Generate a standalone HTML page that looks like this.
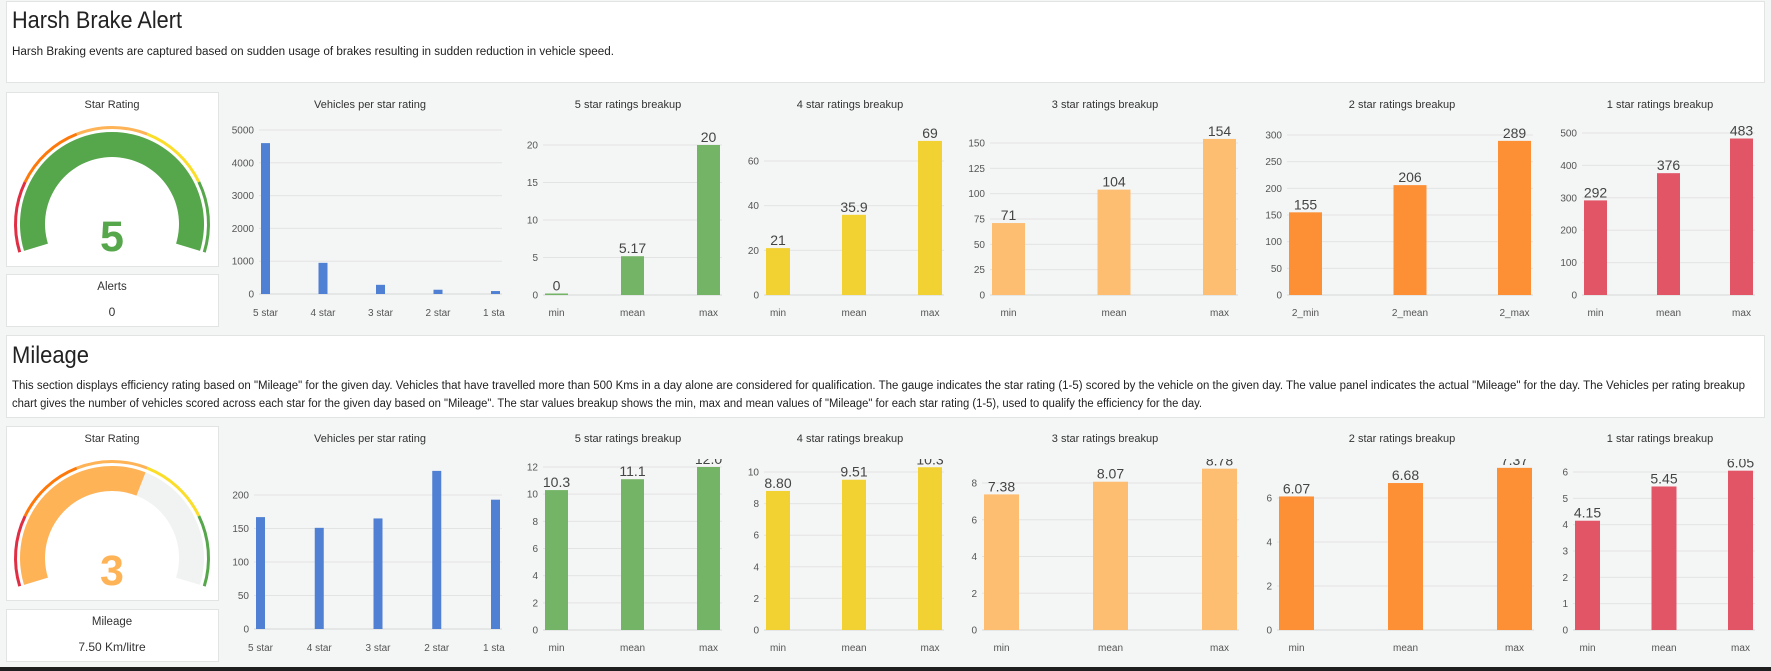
<!DOCTYPE html>
<html><head><meta charset="utf-8"><title>Harsh Brake Alert and Mileage star ratings dashboard</title>
<style>
html,body{margin:0;padding:0;background:#f4f5f5;}
body{width:1771px;height:671px;overflow:hidden;font-family:"Liberation Sans",sans-serif;}
svg{display:block}
</style></head>
<body>
<svg id="dash" width="1771" height="671" viewBox="0 0 1771 671" xmlns="http://www.w3.org/2000/svg" font-family="Liberation Sans, sans-serif">
  <rect x="0" y="0" width="1771" height="671" fill="#f4f5f5"/>
  <defs>
    <clipPath id="clipR2"><rect x="0" y="459" width="1771" height="200"/></clipPath>
    <clipPath id="clipVeh"><rect x="0" y="0" width="505" height="671"/></clipPath>
  </defs>
  <g>
    <rect x="6.5" y="1.5" width="1758" height="81" fill="#fff" stroke="#e2e3e3"/>
    <text x="12" y="28" font-size="24" fill="#222" textLength="170" lengthAdjust="spacingAndGlyphs">Harsh Brake Alert</text>
    <text x="12" y="55" font-size="11.5" fill="#222" textLength="602" lengthAdjust="spacingAndGlyphs">Harsh Braking events are captured based on sudden usage of brakes resulting in sudden reduction in vehicle speed.</text>
  </g>
  <g>
    <rect x="6.5" y="92.5" width="212" height="174" fill="#fff" stroke="#e2e3e3"/>
    <text x="112" y="108" font-size="11" fill="#333" text-anchor="middle">Star Rating</text>
  </g>
  <g>
    <rect x="6.5" y="274.5" width="212" height="52" fill="#fff" stroke="#e2e3e3"/>
    <text x="112" y="290" font-size="11.5" fill="#333" text-anchor="middle">Alerts</text>
    <text x="112" y="316" font-size="12" fill="#333" text-anchor="middle">0</text>
  </g>
  <g>
    <rect x="6.5" y="335.5" width="1758" height="82" fill="#fff" stroke="#e2e3e3"/>
    <text x="12" y="363" font-size="24" fill="#222" textLength="77" lengthAdjust="spacingAndGlyphs">Mileage</text>
    <text x="12" y="389" font-size="11.5" fill="#222" textLength="1733" lengthAdjust="spacingAndGlyphs">This section displays efficiency rating based on "Mileage" for the given day. Vehicles that have travelled more than 500 Kms in a day alone are considered for qualification. The gauge indicates the star rating (1-5) scored by the vehicle on the given day. The value panel indicates the actual "Mileage" for the day. The Vehicles per rating breakup</text>
    <text x="12" y="407" font-size="11.5" fill="#222" textLength="1190" lengthAdjust="spacingAndGlyphs">chart gives the number of vehicles scored across each star for the given day based on "Mileage". The star values breakup shows the min, max and mean values of "Mileage" for each star rating (1-5), used to qualify the efficiency for the day.</text>
  </g>
  <g>
    <rect x="6.5" y="426.5" width="212" height="174" fill="#fff" stroke="#e2e3e3"/>
    <text x="112" y="442" font-size="11" fill="#333" text-anchor="middle">Star Rating</text>
  </g>
  <g>
    <rect x="6.5" y="609.5" width="212" height="52" fill="#fff" stroke="#e2e3e3"/>
    <text x="112" y="625" font-size="11.5" fill="#333" text-anchor="middle">Mileage</text>
    <text x="112" y="651" font-size="12" fill="#333" text-anchor="middle">7.50 Km/litre</text>
  </g>
  <rect x="0" y="667" width="1771" height="4" fill="#1f1f1f"/>
  <g id="charts"></g>
</svg>
<script>
// ---------- data ----------
const starCats = ['5 star','4 star','3 star','2 star','1 star'];
const breakupCats = ['min','mean','max'];
const breakupCats2 = ['2_min','2_mean','2_max'];

const harshVehicleValues = [4600, 950, 280, 130, 90];
const harshVehicleTicks = [0, 1000, 2000, 3000, 4000, 5000];
const harsh5Values = [0, 5.17, 20];
const harsh5Labels = ['0', '5.17', '20'];
const harsh5Ticks = [0, 5, 10, 15, 20];
const harsh4Values = [21, 35.9, 69];
const harsh4Labels = ['21', '35.9', '69'];
const harsh4Ticks = [0, 20, 40, 60];
const harsh3Values = [71, 104, 154];
const harsh3Labels = ['71', '104', '154'];
const harsh3Ticks = [0, 25, 50, 75, 100, 125, 150];
const harsh2Values = [155, 206, 289];
const harsh2Labels = ['155', '206', '289'];
const harsh2Ticks = [0, 50, 100, 150, 200, 250, 300];
const harsh1Values = [292, 376, 483];
const harsh1Labels = ['292', '376', '483'];
const harsh1Ticks = [0, 100, 200, 300, 400, 500];

const mileageVehicleValues = [167, 151, 165, 236, 193];
const mileageVehicleTicks = [0, 50, 100, 150, 200];
const mileage5Values = [10.3, 11.1, 12.0];
const mileage5Labels = ['10.3', '11.1', '12.0'];
const mileage5Ticks = [0, 2, 4, 6, 8, 10, 12];
const mileage4Values = [8.80, 9.51, 10.3];
const mileage4Labels = ['8.80', '9.51', '10.3'];
const mileage4Ticks = [0, 2, 4, 6, 8, 10];
const mileage3Values = [7.38, 8.07, 8.78];
const mileage3Labels = ['7.38', '8.07', '8.78'];
const mileage3Ticks = [0, 2, 4, 6, 8];
const mileage2Values = [6.07, 6.68, 7.37];
const mileage2Labels = ['6.07', '6.68', '7.37'];
const mileage2Ticks = [0, 2, 4, 6];
const mileage1Values = [4.15, 5.45, 6.05];
const mileage1Labels = ['4.15', '5.45', '6.05'];
const mileage1Ticks = [0, 1, 2, 3, 4, 5, 6];

const harshGaugeValue = 5;
const mileageGaugeValue = 3;
const gaugeMax = 5;
const gaugeThresholds = [0, 1, 2, 3, 4, 5];

// ---------- rendering ----------
const NS = 'http://www.w3.org/2000/svg';
const root = document.getElementById('charts');
function mk(tag, attrs, parent){
  const e = document.createElementNS(NS, tag);
  for (const k in attrs) e.setAttribute(k, attrs[k]);
  (parent || root).appendChild(e);
  return e;
}

function barChart(o){
  const g = mk('g', {});
  
  
  if (o.clip) g.setAttribute('clip-path', o.clip);
  const t = mk('text', {x:o.titleX, y:o.titleY, 'font-size':11, fill:'#333', 'text-anchor':'middle'}, root);
  t.textContent = o.title;
  
  
  const topTick = o.ticks[o.ticks.length-1];
  const ppu = (o.y0 - o.topY) / topTick;
  const yS = v => o.y0 - v * ppu;
  o.ticks.forEach(tv => {
    const y = yS(tv);
    const l = mk('line', {x1:o.x0, x2:o.x1, y1:y, y2:y, stroke: tv===0 ? '#d6d6d6' : '#e3e3e3', 'stroke-width':1}, g);
    
    
    const tx = mk('text', {x:o.x0-5, y:y+3.5, 'font-size':10, fill:'#555', 'text-anchor':'end'}, g);
    tx.textContent = String(tv);
    
    
  });
  const n = o.cats.length, pad = 2;
  const step = (o.x1 - o.x0 - o.bw - 2*pad) / (n-1);
  const xS = i => o.x0 + pad + o.bw/2 + i*step;
  const vg = mk('g', {}, g);
  if (o.valueClip) vg.setAttribute('clip-path', o.valueClip);
  o.cats.forEach((c, i) => {
    const cx = xS(i), v = o.values[i];
    const h = Math.max(v * ppu, 1.5);
    const b = mk('rect', {x:cx-o.bw/2, y:o.y0-h, width:o.bw, height:h, fill:o.color}, vg);
    
    
    if (o.labels){
      const lt = mk('text', {x:cx, y:o.y0-h-3, 'font-size':14, fill:'#444', 'text-anchor':'middle'}, vg);
      lt.textContent = o.labels[i];
      
      
    }
    const xl = mk('text', {x:cx, y:o.labelY, 'font-size':10, fill:'#555', 'text-anchor':'middle'}, g);
    xl.textContent = c;
    
    
  });
}

const r1 = {y0:295, titleY:108, labelY:316};
barChart({name:'harsh-vehicles-per-star-chart', title:'Vehicles per star rating', titleX:370, titleY:r1.titleY, labelY:r1.labelY, x0:259, x1:502, y0:294, topY:130, ticks:harshVehicleTicks, cats:starCats, values:harshVehicleValues, bw:9, color:'#4f80d3', clip:'url(#clipVeh)'});
barChart({name:'harsh-5-star-breakup-chart', title:'5 star ratings breakup', titleX:628, titleY:r1.titleY, labelY:r1.labelY, x0:543, x1:722, y0:r1.y0, topY:145, ticks:harsh5Ticks, cats:breakupCats, values:harsh5Values, labels:harsh5Labels, bw:23, color:'#73b466'});
barChart({name:'harsh-4-star-breakup-chart', title:'4 star ratings breakup', titleX:850, titleY:r1.titleY, labelY:r1.labelY, x0:764, x1:944, y0:r1.y0, topY:161, ticks:harsh4Ticks, cats:breakupCats, values:harsh4Values, labels:harsh4Labels, bw:24, color:'#f2d233'});
barChart({name:'harsh-3-star-breakup-chart', title:'3 star ratings breakup', titleX:1105, titleY:r1.titleY, labelY:r1.labelY, x0:990, x1:1238, y0:r1.y0, topY:143, ticks:harsh3Ticks, cats:breakupCats, values:harsh3Values, labels:harsh3Labels, bw:33, color:'#fdbe72'});
barChart({name:'harsh-2-star-breakup-chart', title:'2 star ratings breakup', titleX:1402, titleY:r1.titleY, labelY:r1.labelY, x0:1287, x1:1533, y0:r1.y0, topY:135, ticks:harsh2Ticks, cats:breakupCats2, values:harsh2Values, labels:harsh2Labels, bw:33, color:'#fd8f35'});
barChart({name:'harsh-1-star-breakup-chart', title:'1 star ratings breakup', titleX:1660, titleY:r1.titleY, labelY:r1.labelY, x0:1582, x1:1755, y0:r1.y0, topY:133, ticks:harsh1Ticks, cats:breakupCats, values:harsh1Values, labels:harsh1Labels, bw:23, color:'#e25567'});

const r2 = {y0:630, titleY:442, labelY:651};
barChart({name:'mileage-vehicles-per-star-chart', title:'Vehicles per star rating', titleX:370, titleY:r2.titleY, labelY:r2.labelY, x0:254, x1:502, y0:629, topY:495, ticks:mileageVehicleTicks, cats:starCats, values:mileageVehicleValues, bw:9, color:'#4f80d3', clip:'url(#clipVeh)'});
barChart({name:'mileage-5-star-breakup-chart', title:'5 star ratings breakup', titleX:628, titleY:r2.titleY, labelY:r2.labelY, x0:543, x1:722, y0:r2.y0, topY:467, ticks:mileage5Ticks, cats:breakupCats, values:mileage5Values, labels:mileage5Labels, bw:23, color:'#73b466', valueClip:'url(#clipR2)'});
barChart({name:'mileage-4-star-breakup-chart', title:'4 star ratings breakup', titleX:850, titleY:r2.titleY, labelY:r2.labelY, x0:764, x1:944, y0:r2.y0, topY:472, ticks:mileage4Ticks, cats:breakupCats, values:mileage4Values, labels:mileage4Labels, bw:24, color:'#f2d233', valueClip:'url(#clipR2)'});
barChart({name:'mileage-3-star-breakup-chart', title:'3 star ratings breakup', titleX:1105, titleY:r2.titleY, labelY:r2.labelY, x0:982, x1:1239, y0:r2.y0, topY:483, ticks:mileage3Ticks, cats:breakupCats, values:mileage3Values, labels:mileage3Labels, bw:35, color:'#fdbe72', valueClip:'url(#clipR2)'});
barChart({name:'mileage-2-star-breakup-chart', title:'2 star ratings breakup', titleX:1402, titleY:r2.titleY, labelY:r2.labelY, x0:1277, x1:1534, y0:r2.y0, topY:498, ticks:mileage2Ticks, cats:breakupCats, values:mileage2Values, labels:mileage2Labels, bw:35, color:'#fd8f35', valueClip:'url(#clipR2)'});
barChart({name:'mileage-1-star-breakup-chart', title:'1 star ratings breakup', titleX:1660, titleY:r2.titleY, labelY:r2.labelY, x0:1573, x1:1755, y0:r2.y0, topY:472, ticks:mileage1Ticks, cats:breakupCats, values:mileage1Values, labels:mileage1Labels, bw:25, color:'#e25567', valueClip:'url(#clipR2)'});

// ---------- gauges ----------
const SPAN = 107;
function pt(cx, cy, r, a){ const t = a*Math.PI/180; return [cx + r*Math.sin(t), cy - r*Math.cos(t)]; }
function band(cx, cy, r1, r2, a1, a2){
  const large = (a2 - a1) > 180 ? 1 : 0;
  const p1 = pt(cx,cy,r2,a1), p2 = pt(cx,cy,r2,a2), p3 = pt(cx,cy,r1,a2), p4 = pt(cx,cy,r1,a1);
  return `M${p1[0]},${p1[1]} A${r2},${r2} 0 ${large} 1 ${p2[0]},${p2[1]} L${p3[0]},${p3[1]} A${r1},${r1} 0 ${large} 0 ${p4[0]},${p4[1]} Z`;
}
const thColors = ['#e02f44', '#ff780a', '#ffb357', '#fade2a', '#56a64b'];
const valColors = ['#e02f44', '#ff780a', '#ffb357', '#fade2a', '#56a64b'];
function gauge(name, cx, cy, value){
  const g = mk('g', {});
  
  
  const aS = v => -SPAN + (v / gaugeMax) * 2 * SPAN;
  for (let i = 0; i < gaugeThresholds.length - 1; i++){
    const p = mk('path', {d: band(cx, cy, 95, 98, aS(gaugeThresholds[i]), aS(gaugeThresholds[i+1])), fill: thColors[i]}, g);
    
    
  }
  const bg = mk('path', {d: band(cx, cy, 67, 92, -SPAN, SPAN), fill:'#f1f2f2'}, g);
  
  
  const idx = Math.min(Math.max(Math.ceil(value) - 1, 0), 4);
  const fill = mk('path', {d: band(cx, cy, 67, 92, -SPAN, aS(value)), fill: valColors[idx]}, g);
  
  
  const t = mk('text', {x:cx, y:cy+27, 'font-size':43, 'font-weight':'bold', fill: valColors[idx], 'text-anchor':'middle'}, g);
  t.textContent = String(value);
  
  
}
gauge('harsh-star-rating-gauge', 112, 224, harshGaugeValue);
gauge('mileage-star-rating-gauge', 112, 558, mileageGaugeValue);
</script>
</body></html>
